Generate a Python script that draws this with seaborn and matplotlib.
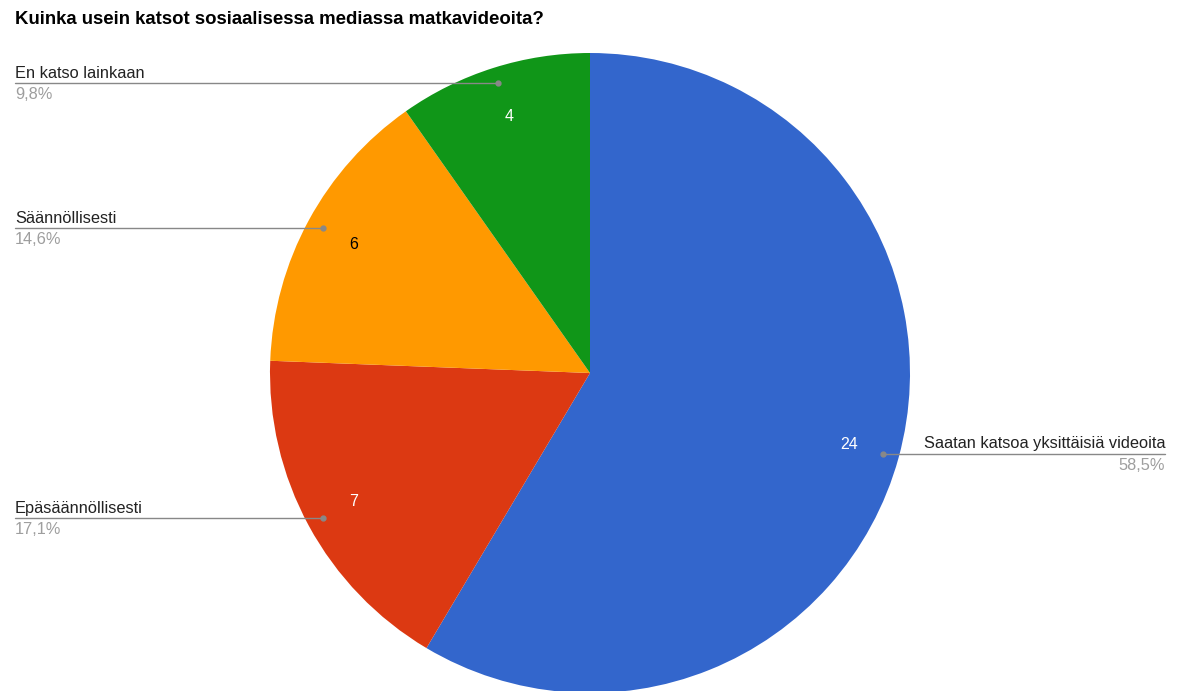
import numpy as np
import matplotlib
matplotlib.use("Agg")
import matplotlib.pyplot as plt
import seaborn as sns

categories = ["Saatan katsoa yksittäisiä videoita", "Epäsäännöllisesti", "Säännöllisesti", "En katso lainkaan"]
counts = [24, 7, 6, 4]
pct_labels = ["58,5%", "17,1%", "14,6%", "9,8%"]
colors = ["#3366CC", "#DC3912", "#FF9900", "#109618"]
count_text_colors = ["white", "white", "black", "white"]
title = "Kuinka usein katsot sosiaalisessa mediassa matkavideoita?"

sns.set_theme(style="white")
plt.rcParams['font.family'] = ['Liberation Sans', 'DejaVu Sans']

W, H = 1181, 691
fig = plt.figure(figsize=(W / 100, H / 100), dpi=100)
cx, cy, R = 590, H - 373, 320
ax = fig.add_axes([(cx - R) / W, (cy - R) / H, 2 * R / W, 2 * R / H])

wedges, texts, autotexts = ax.pie(
    counts, colors=colors, startangle=90, counterclock=False, radius=1,
    autopct=lambda p: "", pctdistance=0.84,
    wedgeprops=dict(linewidth=0, edgecolor="white"))
ax.set_xlim(-1, 1)
ax.set_ylim(-1, 1)
ax.axis("off")

inv = ax.transData.inverted()
x_left = inv.transform(fig.transFigure.transform((15 / W, 0)))[0]
x_right = inv.transform(fig.transFigure.transform((1165 / W, 0)))[0]

for i, w in enumerate(wedges):
    mid = np.deg2rad((w.theta1 + w.theta2) / 2)
    tx, ty = 0.84 * np.cos(mid), 0.84 * np.sin(mid)
    ax.text(tx, ty, str(counts[i]), ha="center", va="center",
            fontsize=11.5, color=count_text_colors[i])
    dx, dy = 0.95 * np.cos(mid), 0.95 * np.sin(mid)
    xe = x_right if dx > 0 else x_left
    ax.plot([dx, xe], [dy, dy], color="#888888", lw=1, clip_on=False, zorder=5)
    ax.plot([dx], [dy], marker="o", ms=3.5, color="#888888", clip_on=False, zorder=6)
    ha = "right" if dx > 0 else "left"
    ax.annotate(categories[i], (xe, dy), xytext=(0, 1.5), textcoords="offset points",
                ha=ha, va="bottom", fontsize=11.8, color="#222222", annotation_clip=False)
    ax.annotate(pct_labels[i], (xe, dy), xytext=(0, -3), textcoords="offset points",
                ha=ha, va="top", fontsize=11.8, color="#9e9e9e", annotation_clip=False)

fig.text(15 / W, 1 - 19 / H, title, ha="left", va="center",
         fontsize=13.4, fontweight="bold", color="black")

fig.savefig("out.png", dpi=100, facecolor="white")
